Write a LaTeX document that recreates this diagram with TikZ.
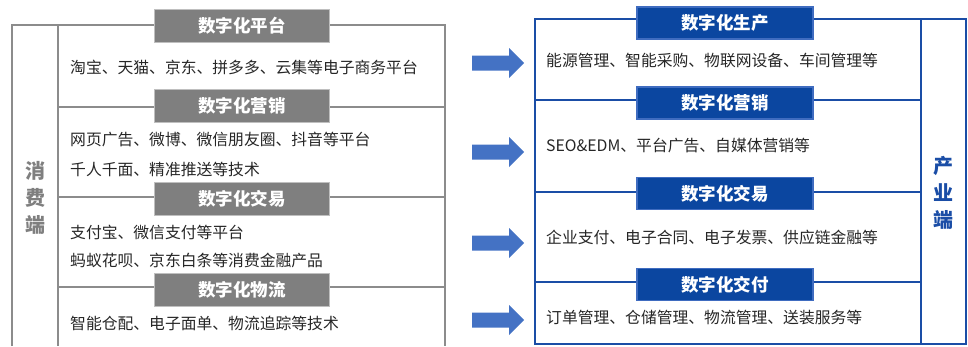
\documentclass[tikz,border=0pt]{standalone}
\usepackage{fontspec}
\setmainfont{Noto Sans CJK SC}
\definecolor{txtc}{HTML}{262626}
\definecolor{gline}{HTML}{8C8C8C}
\definecolor{gfill}{HTML}{7F7F7F}
\definecolor{gedge}{HTML}{BFBFBF}
\definecolor{bline}{HTML}{1A4DA6}
\definecolor{bfill}{HTML}{0B46A0}
\definecolor{bedge}{HTML}{3F6CC0}
\definecolor{arrc}{HTML}{4472C4}
\tikzset{
  gl/.style={draw=gline,line width=2pt},
  bl/.style={draw=bline,line width=2pt},
  ghead/.style={fill=gfill,draw=gedge,line width=1.2pt,minimum width=175pt,minimum height=33pt,inner sep=0pt,text=white,font=\fontsize{17.5}{20}\selectfont\bfseries},
  bhead/.style={fill=bfill,draw=bedge,line width=1.2pt,minimum width=176pt,minimum height=32pt,inner sep=0pt,text=white,font=\fontsize{17.5}{20}\selectfont\bfseries},
  txt/.style={anchor=west,inner sep=0pt,text=txtc,font=\fontsize{15.8}{18}\selectfont},
  bigarrow/.style={fill=arrc,draw=none},
  vtxt/.style={align=center,inner sep=0pt,font=\fontsize{20}{27}\selectfont\bfseries}
}
\newcommand{\blockarrow}[1]{%
  \fill[bigarrow] ($(#1)+(-26,-7.5)$) -- ($(#1)+(11,-7.5)$) -- ($(#1)+(11,-15)$) -- ($(#1)+(26,0)$) -- ($(#1)+(11,15)$) -- ($(#1)+(11,7.5)$) -- ($(#1)+(-26,7.5)$) -- cycle;}
\usetikzlibrary{calc}
\begin{document}
\begin{tikzpicture}[x=1pt,y=-1pt]
\useasboundingbox (0,0) rectangle (968,346);
% left frame
\draw[gl] (12,346) -- (12,25) -- (445,25) -- (445,346);
\draw[gl] (58,25) -- (58,346);
\draw[gl] (58,107) -- (445,107);
\draw[gl] (58,197) -- (445,197);
\draw[gl] (58,287) -- (445,287);
% right frame
\draw[bl] (535,19) rectangle (966,344);
\draw[bl] (921,19) -- (921,344);
\draw[bl] (535,100) -- (921,100);
\draw[bl] (535,192) -- (921,192);
\draw[bl] (535,282) -- (921,282);
% left headers
\node[ghead] (lh1) at (242,26) {数字化平台};
\node[ghead] (lh2) at (242,106) {数字化营销};
\node[ghead] (lh3) at (242,199) {数字化交易};
\node[ghead] (lh4) at (242,290) {数字化物流};
% right headers
\node[bhead] (rh1) at (725,23) {数字化生产};
\node[bhead] (rh2) at (725,103) {数字化营销};
\node[bhead] (rh3) at (725,193.5) {数字化交易};
\node[bhead] (rh4) at (725,284.5) {数字化交付};
% left texts
\node[txt] (lt1) at (70,67) {淘宝、天猫、京东、拼多多、云集等电子商务平台};
\node[txt] (lt2) at (70,140) {网页广告、微博、微信朋友圈、抖音等平台};
\node[txt] (lt3) at (70,169) {千人千面、精准推送等技术};
\node[txt] (lt4) at (70,232) {支付宝、微信支付等平台};
\node[txt] (lt5) at (70,260) {蚂蚁花呗、京东白条等消费金融产品};
\node[txt] (lt6) at (70,323) {智能仓配、电子面单、物流追踪等技术};
% right texts
\node[txt] (rt1) at (546,61) {能源管理、智能采购、物联网设备、车间管理等};
\node[txt] (rt2) at (546,146) {SEO\&EDM、平台广告、自媒体营销等};
\node[txt] (rt3) at (546,237) {企业支付、电子合同、电子发票、供应链金融等};
\node[txt] (rt4) at (546,317) {订单管理、仓储管理、物流管理、送装服务等};
% vertical labels
\node[vtxt,text=gfill] (lv) at (35,198) {消\\费\\端};
\node[vtxt,text=bline] (rv) at (943,193) {产\\业\\端};
% arrows
\coordinate (a1) at (498,63);
\coordinate (a2) at (498,152);
\coordinate (a3) at (498,243);
\coordinate (a4) at (498,320);
\blockarrow{a1}
\blockarrow{a2}
\blockarrow{a3}
\blockarrow{a4}
\end{tikzpicture}
\end{document}
